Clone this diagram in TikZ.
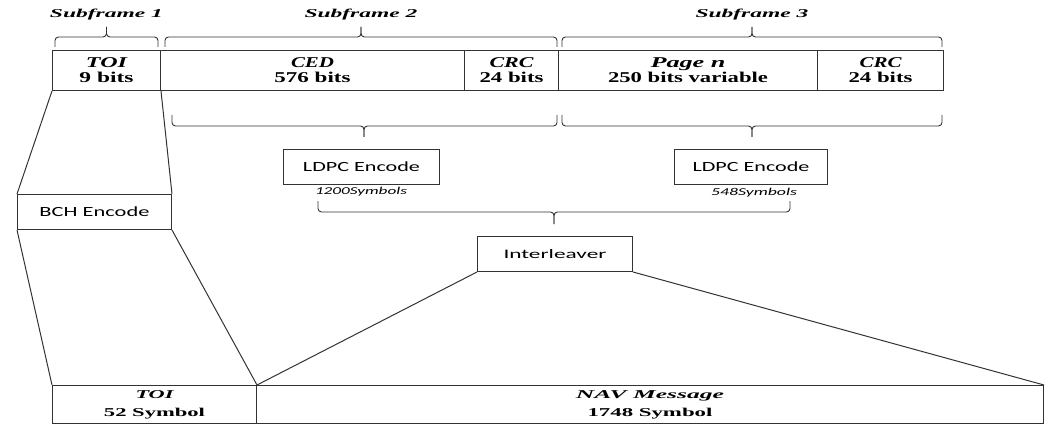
\documentclass[tikz,border=0pt]{standalone}
\usepackage{fontspec}
\usepackage{graphicx}
\setmainfont{Liberation Serif}
\newfontfamily\sansc{Carlito}
\newcommand\rs[2]{\resizebox{#1pt}{\height}{#2}}
\tikzset{
  ln/.style={draw=black!80, line width=1pt},
  br/.style={draw=black!80, line width=0.9pt, rounded corners=3.5pt},
  cell/.style={ln, rectangle, inner sep=0pt, anchor=north west, align=center,
    minimum height=40pt, font=\fontsize{15}{15}\selectfont},
  bcell/.style={ln, rectangle, inner sep=0pt, anchor=north west, align=center,
    minimum height=38pt, font=\fontsize{12}{18}\selectfont},
  enc/.style={ln, rectangle, inner sep=0pt, anchor=north west,
    minimum height=35pt, font=\sansc\fontsize{14}{14}\selectfont},
  lbl/.style={inner sep=0pt, anchor=base, font=\fontsize{12}{12}\selectfont\bfseries\itshape},
  sym/.style={inner sep=0pt, font=\sansc\itshape\fontsize{10.5}{10.5}\selectfont}
}
\begin{document}
\begin{tikzpicture}[x=1pt,y=-1pt]
\useasboundingbox (0,0) rectangle (1047,425);
% subframe labels
\node[lbl] (s1) at (106.5,18) {\rs{113}{Subframe 1}};
\node[lbl] (s2) at (361,18) {\rs{113}{Subframe 2}};
\node[lbl] (s3) at (752,18) {\rs{113}{Subframe 3}};
% top braces
\draw[br] (55,47) -- (55,37) -- (106.5,37) -- (106.5,27);
\draw[br] (158,47) -- (158,37) -- (106.5,37) -- (106.5,27);
\draw[br] (165,47) -- (165,37) -- (361,37) -- (361,27);
\draw[br] (557,47) -- (557,37) -- (361,37) -- (361,27);
\draw[br] (562,47) -- (562,37) -- (752,37) -- (752,27);
\draw[br] (942,47) -- (942,37) -- (752,37) -- (752,27);
% top row
\node[cell, minimum width=108pt] (toi) at (52,50) {\rs{41}{\bfseries\itshape TOI}\\\rs{54}{\bfseries 9 bits}};
\node[cell, minimum width=304pt] (ced) at (160,50) {\rs{43}{\bfseries\itshape CED}\\\rs{76}{\bfseries 576 bits}};
\node[cell, minimum width=94pt] (crc1) at (464,50) {\rs{44}{\bfseries\itshape CRC}\\\rs{64}{\bfseries 24 bits}};
\node[cell, minimum width=259pt] (page) at (558,50) {\rs{75}{\bfseries\itshape Page n}\\\rs{160}{\bfseries 250 bits variable}};
\node[cell, minimum width=126pt] (crc2) at (817,50) {\rs{42}{\bfseries\itshape CRC}\\\rs{64}{\bfseries 24 bits}};
% lower braces
\draw[br] (172,115) -- (172,126) -- (364,126) -- (364,137);
\draw[br] (557,115) -- (557,126) -- (364,126) -- (364,137);
\draw[br] (562,115) -- (562,126) -- (752,126) -- (752,137);
\draw[br] (942,115) -- (942,126) -- (752,126) -- (752,137);
% encoders
\node[enc, minimum width=156pt] (ldpc1) at (283,149) {\rs{117}{LDPC Encode}};
\node[enc, minimum width=153pt] (ldpc2) at (674,149) {\rs{117}{LDPC Encode}};
\node[sym] (sym1) at (361,192) {\rs{92}{1200Symbols}};
\node[sym] (sym2) at (754,193) {\rs{86}{548Symbols}};
\node[enc, minimum width=154pt] (bch) at (17,194) {\rs{110}{BCH Encode}};
% middle brace
\draw[br] (318,201) -- (318,212) -- (554,212) -- (554,224);
\draw[br] (790,201) -- (790,212) -- (554,212) -- (554,224);
\node[enc, minimum width=155pt, font=\sansc\fontsize{13}{13}\selectfont] (inter) at (477,236) {\rs{103}{Interleaver}};
% bottom row
\node[bcell, minimum width=204pt] (btoi) at (52,385) {\rs{38}{\bfseries\itshape TOI}\\\rs{101}{\bfseries 52 Symbol}};
\node[bcell, minimum width=787pt] (nav) at (256,385) {\rs{148}{\bfseries\itshape NAV Message}\\\rs{125}{\bfseries 1748 Symbol}};
% connectors
\draw[ln] (toi.south west) -- (bch.north west);
\draw[ln] (toi.south east) -- (bch.north east);
\draw[ln] (bch.south west) -- (btoi.north west);
\draw[ln] (bch.south east) -- (btoi.north east);
\draw[ln] (inter.south west) -- (btoi.north east);
\draw[ln] (inter.south east) -- (nav.north east);
\end{tikzpicture}
\end{document}
